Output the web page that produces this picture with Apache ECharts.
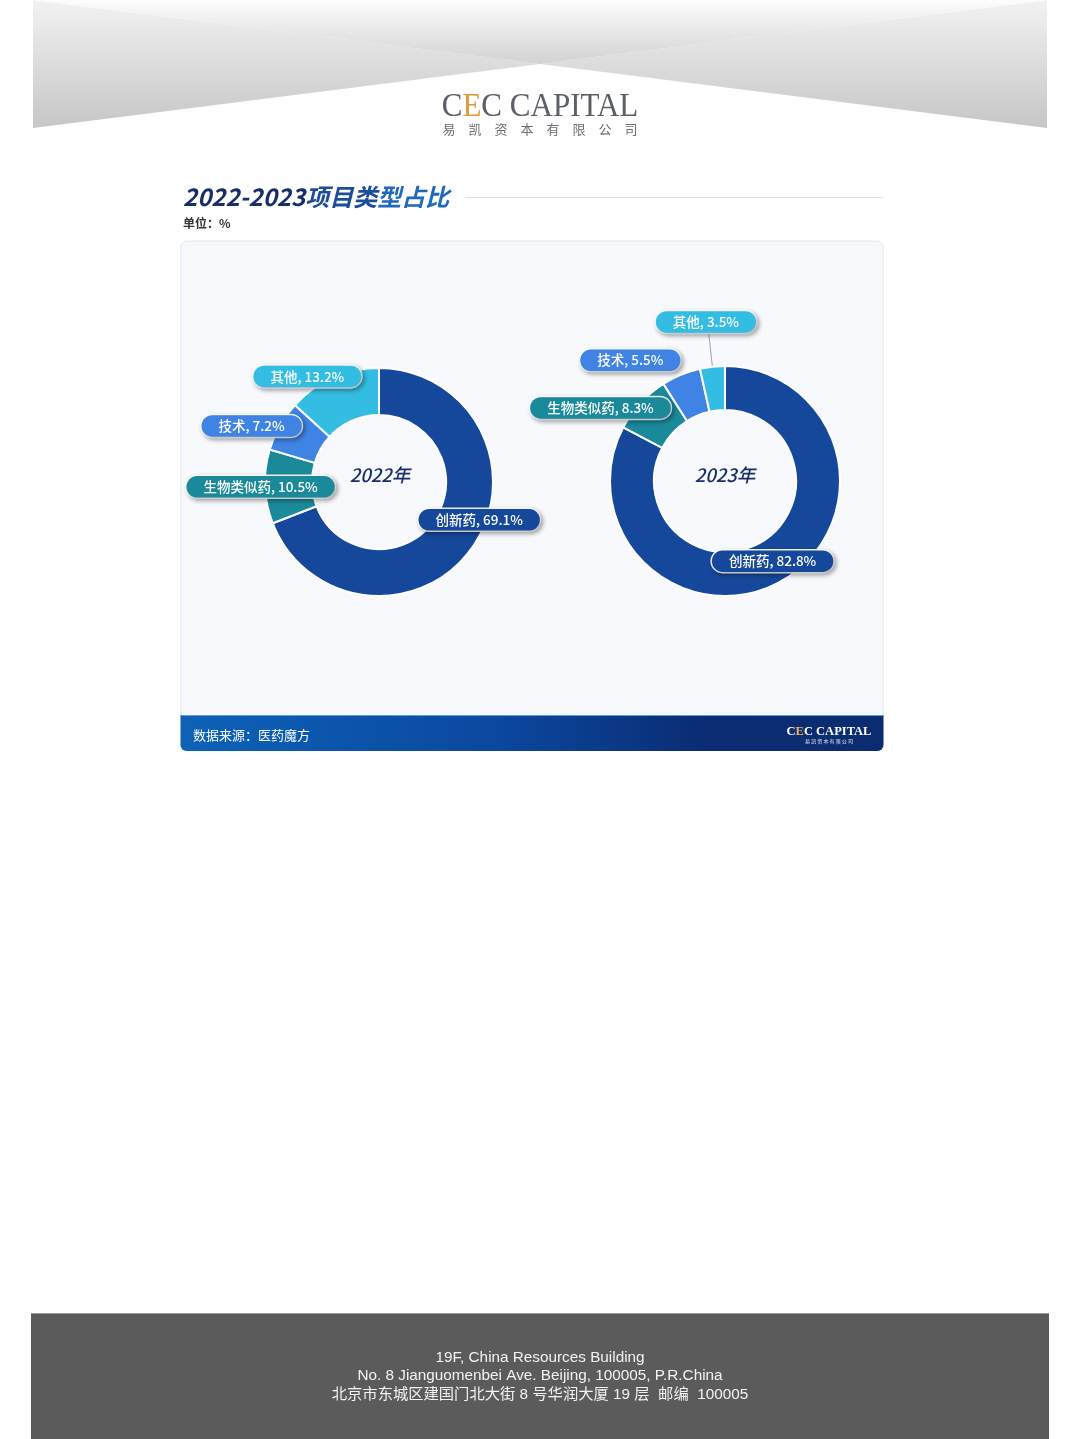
<!DOCTYPE html>
<html>
<head>
<meta charset="utf-8">
<script src="https://cdn.jsdelivr.net/npm/echarts@6/dist/echarts.min.js"></script>
<style>
html,body{margin:0;padding:0;background:#fff;}
#main{width:1080px;height:1439px;}
</style>
</head>
<body>
<div id="main"></div>
<script>
// ---- data ----
const categories = ['创新药', '生物类似药', '技术', '其他'];
const values2022 = [69.1, 10.5, 7.2, 13.2];
const values2023 = [82.8, 8.3, 5.5, 3.5];
const years = ['2022年', '2023年'];
const titleParts = ['2022-2023', '项目类', '型占比'];
const unitText = '单位：%';
const sourceText = '数据来源：医药魔方';
const addressLines = [
  '19F, China Resources Building',
  'No. 8 Jianguomenbei Ave. Beijing, 100005, P.R.China',
  '北京市东城区建国门北大街 8 号华润大厦 19 层  邮编  100005'
];

// ---- style ----
const colors = ['#15489a', '#1a8a9b', '#3f83e4', '#33bde2'];
// label nudges relative to slice ring midpoint [series][item] = [dx, dy]
const labelNudge = [
  [[23, -15], [-25, 1], [-46, -10], [-34, -20]],
  [[-2, -2], [-54, -8], [-58, -32], [53, -5]]
];

const chart = echarts.init(document.getElementById('main'), null, {renderer: 'canvas'});

function makeData(vals, si) {
  return categories.map((c, i) => {
    const item = {
      name: c,
      value: vals[i],
      itemStyle: {color: colors[i]},
      label: {backgroundColor: colors[i]}
    };
    if (si === 1 && i === 3) {
      item.label.position = 'outside';
      item.labelLine = {show: true, length: 40, length2: 0, lineStyle: {color: '#9aa3ad', width: 1}};
    }
    return item;
  });
}

const labelStyle = {
  show: true,
  position: 'inside',
  formatter: '{b}, {c}%',
  color: '#ffffff',
  fontFamily: 'Noto Sans CJK SC',
  fontSize: 13.5,
  fontWeight: 500,
  padding: [4, 17, 4, 17],
  borderRadius: 12,
  borderColor: 'rgba(255,255,255,0.95)',
  borderWidth: 1.5,
  shadowColor: 'rgba(0,0,0,0.28)',
  shadowBlur: 4,
  shadowOffsetX: 2,
  shadowOffsetY: 2
};

function pieSeries(vals, si, center, radius) {
  return {
    type: 'pie',
    center: center,
    radius: radius,
    startAngle: 90,
    clockwise: true,
    avoidLabelOverlap: false,
    silent: true,
    itemStyle: {borderColor: '#ffffff', borderWidth: 2},
    label: labelStyle,
    labelLine: {show: false},
    labelLayout: function (p) {
      const n = labelNudge[si][p.dataIndex];
      return {dx: n[0], dy: n[1]};
    },
    data: makeData(vals, si)
  };
}

const grad = echarts.graphic.LinearGradient;

const option = {
  backgroundColor: '#ffffff',
  animation: false,
  series: [
    pieSeries(values2022, 0, [379, 482], [67, 114]),
    pieSeries(values2023, 1, [725, 481], [71, 115])
  ],
  graphic: [
    // header band: side triangles
    {type: 'polygon', z: -10, shape: {points: [[33, 0], [540, 64], [33, 128]]},
      style: {fill: new grad(0, 0, 0, 1, [{offset: 0, color: '#f2f2f2'}, {offset: 1, color: '#c6c6c6'}])}},
    {type: 'polygon', z: -10, shape: {points: [[1047, 0], [540, 64], [1047, 128]]},
      style: {fill: new grad(0, 0, 0, 1, [{offset: 0, color: '#f2f2f2'}, {offset: 1, color: '#c6c6c6'}])}},
    {type: 'polygon', z: -9, shape: {points: [[33, 0], [1047, 0], [540, 64]]},
      style: {fill: new grad(0, 0, 0, 1, [{offset: 0, color: '#fdfdfd'}, {offset: 1, color: '#d2d2d2'}])}},
    // logo
    {type: 'text', x: 540, y: 107, scaleX: 0.94, style: {
      text: '{g|C}{o|E}{g|C CAPITAL}', align: 'center', verticalAlign: 'middle',
      rich: {
        g: {fontFamily: 'Liberation Serif', fontSize: 33, fill: '#5b5f66'},
        o: {fontFamily: 'Liberation Serif', fontSize: 33, fill: '#e09a3a'}
      }}},
    {type: 'text', x: 540, y: 129, style: {
      text: '易　凯　资　本　有　限　公　司', align: 'center', verticalAlign: 'middle',
      fontFamily: 'Noto Sans CJK SC', fontSize: 13, fill: '#6a6d72'}},
    // title
    {type: 'text', x: 183, y: 197, style: {
      text: '{a|' + titleParts[0] + '}{b|' + titleParts[1] + '}{c|' + titleParts[2] + '}',
      align: 'left', verticalAlign: 'middle',
      rich: {
        a: {fontFamily: 'Noto Sans CJK SC', fontSize: 24, fontWeight: 'bold', fontStyle: 'italic', fill: '#172e68'},
        b: {fontFamily: 'Noto Sans CJK SC', fontSize: 24, fontWeight: 'bold', fontStyle: 'italic', fill: '#1c4d99'},
        c: {fontFamily: 'Noto Sans CJK SC', fontSize: 24, fontWeight: 'bold', fontStyle: 'italic', fill: '#2169bb'}
      }}},
    {type: 'line', shape: {x1: 465, y1: 197.5, x2: 883, y2: 197.5}, style: {stroke: '#dde2e8', lineWidth: 1}},
    {type: 'text', x: 183, y: 223, style: {
      text: unitText, align: 'left', verticalAlign: 'middle',
      fontFamily: 'Noto Sans CJK SC', fontSize: 12, fontWeight: 'bold', fill: '#333333'}},
    // panel
    {type: 'rect', z: -10, shape: {x: 181, y: 241, width: 702, height: 509, r: 6},
      style: {fill: '#f7f9fc', stroke: '#e2e5ea', lineWidth: 1}},
    {type: 'rect', z: -8, shape: {x: 180.5, y: 715, width: 703, height: 36, r: [0, 0, 6, 6]},
      style: {fill: new grad(0, 0, 1, 0, [{offset: 0, color: '#0d62b8'}, {offset: 0.45, color: '#0b48a0'}, {offset: 0.75, color: '#0a2c72'}, {offset: 1, color: '#0b2c70'}])}},
    {type: 'line', z: -7, shape: {x1: 181, y1: 715.5, x2: 883, y2: 715.5}, style: {stroke: '#5aa0e0', lineWidth: 1}},
    {type: 'text', x: 193, y: 735, style: {
      text: sourceText, align: 'left', verticalAlign: 'middle',
      fontFamily: 'Noto Sans CJK SC', fontSize: 13, fill: '#ffffff'}},
    {type: 'text', x: 829, y: 732, style: {
      text: '{w|C}{o|E}{w|C CAPITAL}', align: 'center', verticalAlign: 'middle',
      rich: {
        w: {fontFamily: 'Liberation Serif', fontSize: 12.5, fontWeight: 'bold', fill: '#ffffff'},
        o: {fontFamily: 'Liberation Serif', fontSize: 12.5, fontWeight: 'bold', fill: '#f0b060'}
      }}},
    {type: 'text', x: 829, y: 741, style: {
      text: '易 凯 资 本 有 限 公 司', align: 'center', verticalAlign: 'middle',
      fontFamily: 'Noto Sans CJK SC', fontSize: 5, fill: '#dfe6f2'}},
    // center year labels
    {type: 'text', x: 380, y: 475, z: 10, style: {
      text: years[0], align: 'center', verticalAlign: 'middle',
      fontFamily: 'Noto Sans CJK SC', fontSize: 18.5, fontWeight: 500, fontStyle: 'italic', fill: '#1b2f66'}},
    {type: 'text', x: 725, y: 475, z: 10, style: {
      text: years[1], align: 'center', verticalAlign: 'middle',
      fontFamily: 'Noto Sans CJK SC', fontSize: 18.5, fontWeight: 500, fontStyle: 'italic', fill: '#1b2f66'}},
    // footer
    {type: 'rect', z: -10, shape: {x: 31, y: 1313, width: 1018, height: 126},
      style: {fill: '#5b5b5b'}},
    {type: 'line', z: -9, shape: {x1: 31, y1: 1313.5, x2: 1049, y2: 1313.5}, style: {stroke: '#9a9a9a', lineWidth: 1}},
    {type: 'text', x: 540, y: 1358, style: {text: addressLines[0], align: 'center', verticalAlign: 'middle',
      fontFamily: 'Liberation Sans', fontSize: 15.3, fill: '#f2f2f2'}},
    {type: 'text', x: 540, y: 1376, style: {text: addressLines[1], align: 'center', verticalAlign: 'middle',
      fontFamily: 'Liberation Sans', fontSize: 15.3, fill: '#f2f2f2'}},
    {type: 'text', x: 540, y: 1395, style: {text: addressLines[2], align: 'center', verticalAlign: 'middle',
      fontFamily: 'Liberation Sans, Noto Sans CJK SC', fontSize: 15.3, fill: '#f2f2f2'}}
  ]
};
chart.setOption(option);
</script>
</body>
</html>
